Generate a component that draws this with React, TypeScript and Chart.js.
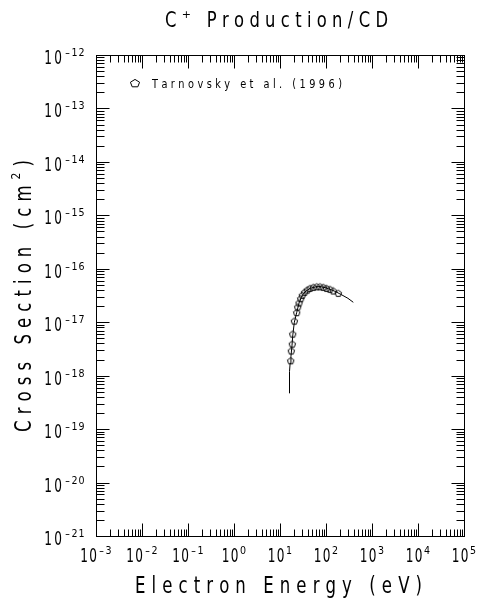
import React, { useEffect, useRef } from 'react';
import { Chart, registerables } from 'chart.js';

Chart.register(...registerables);

// ---- Data ----
const measuredEnergyEv = [17.1, 17.6, 18.5, 18.9, 20.5, 23.1, 24.3, 25.9, 28.2, 30.5, 34.4, 39.2, 44.9, 53, 62.8, 74, 87.3, 103, 122, 144, 185];
const measuredSigma = [1.9e-18, 2.9e-18, 3.9e-18, 6.0e-18, 1.05e-17, 1.51e-17, 1.92e-17, 2.29e-17, 2.75e-17, 3.19e-17, 3.63e-17, 4.0e-17, 4.3e-17, 4.5e-17, 4.6e-17, 4.6e-17, 4.5e-17, 4.3e-17, 4.13e-17, 3.84e-17, 3.48e-17];

const fitEnergyEv = [15.9, 16.1, 16.6, 17.3, 18.2, 19.0, 20.5, 23, 26, 30, 35, 45, 60, 75, 100, 150, 200, 300, 392];
const fitSigma = [4.7e-19, 1.2e-18, 1.7e-18, 2.3e-18, 3.6e-18, 5.8e-18, 1.0e-17, 1.5e-17, 2.3e-17, 3.1e-17, 3.7e-17, 4.3e-17, 4.6e-17, 4.65e-17, 4.4e-17, 3.85e-17, 3.4e-17, 2.8e-17, 2.36e-17];

const xTickExponents = [-3, -2, -1, 0, 1, 2, 3, 4, 5];
const yTickExponents = [-21, -20, -19, -18, -17, -16, -15, -14, -13, -12];

const titleMain = 'C';
const titleSup = '+';
const titleRest = ' Production/CD';
const xTitle = 'Electron Energy (eV)';
const yTitleMain = 'Cross Section (cm';
const yTitleSup = '2';
const yTitleEnd = ')';
const legendLabel = 'Tarnovsky et al. (1996)';

const FONT = '"DejaVu Sans", sans-serif';

type Glyph = { ch: string; size: number; sx: number; rise: number };

function glyphs(text: string, size: number, sx: number, rise = 0): Glyph[] {
  return text.split('').map((ch) => ({ ch, size, sx: ch === '-' ? sx * 1.5 : sx, rise }));
}

function drawGlyphs(
  ctx: CanvasRenderingContext2D,
  gs: Glyph[],
  x: number,
  y: number,
  align: 'left' | 'center' | 'right',
  width?: number,
  spacing = 0
) {
  const ws = gs.map((g) => {
    ctx.font = `${g.size}px ${FONT}`;
    return ctx.measureText(g.ch).width * g.sx;
  });
  const sum = ws.reduce((a, b) => a + b, 0);
  const sp = width != null && gs.length > 1 ? (width - sum) / (gs.length - 1) : spacing;
  const total = sum + sp * (gs.length - 1);
  let cx = align === 'center' ? x - total / 2 : align === 'right' ? x - total : x;
  gs.forEach((g, i) => {
    ctx.save();
    ctx.font = `${g.size}px ${FONT}`;
    ctx.translate(cx, y - g.rise);
    ctx.scale(g.sx, 1);
    ctx.fillText(g.ch, 0, 0);
    ctx.restore();
    cx += ws[i] + sp;
  });
}

type Cell = { ch: string; size: number; sx: number; rise: number; cell: number };

function drawCells(ctx: CanvasRenderingContext2D, cells: Cell[], startX: number, y: number) {
  let cx = startX;
  cells.forEach((c) => {
    ctx.save();
    ctx.font = `${c.size}px ${FONT}`;
    const w = ctx.measureText(c.ch).width * c.sx;
    ctx.translate(cx + (c.cell - w) / 2, y - c.rise);
    ctx.scale(c.sx, 1);
    ctx.fillText(c.ch, 0, 0);
    ctx.restore();
    cx += c.cell;
  });
  return cx - startX;
}

function powerCells(exp: number, gap: number): Cell[] {
  const cells: Cell[] = [
    { ch: '1', size: 19.5, sx: 0.62, rise: 0, cell: 8 },
    { ch: '0', size: 19.5, sx: 0.62, rise: 0, cell: 8 + gap },
  ];
  String(exp).split('').forEach((ch) => {
    cells.push({ ch, size: 10, sx: ch === '-' ? 1.4 : 0.95, rise: 8, cell: 7 });
  });
  return cells;
}

function pentagonPath(ctx: CanvasRenderingContext2D, cx: number, cy: number, r: number, sy = 1) {
  ctx.beginPath();
  for (let i = 0; i < 5; i++) {
    const a = -Math.PI / 2 + (i * 2 * Math.PI) / 5;
    const px = cx + r * Math.cos(a);
    const py = cy + r * Math.sin(a) * sy;
    if (i === 0) ctx.moveTo(px, py);
    else ctx.lineTo(px, py);
  }
  ctx.closePath();
}

function makePentagon(): HTMLCanvasElement {
  const c = document.createElement('canvas');
  c.width = 9;
  c.height = 9;
  const g = c.getContext('2d')!;
  g.strokeStyle = '#000';
  g.lineWidth = 1;
  pentagonPath(g, 4.5, 4.8, 3.4);
  g.stroke();
  return c;
}

const decorPlugin = {
  id: 'decor',
  afterDraw(chart: any) {
    const { ctx, chartArea: a, scales } = chart;
    const xs = scales.x;
    const ys = scales.y;
    const L = Math.round(a.left) + 0.5;
    const R = Math.round(a.right) + 0.5;
    const T = Math.round(a.top) + 0.5;
    const B = Math.round(a.bottom) + 0.5;
    ctx.save();
    ctx.strokeStyle = '#000';
    ctx.fillStyle = '#000';
    ctx.lineWidth = 1;
    ctx.strokeRect(L, T, R - L, B - T);

    // ticks
    ctx.beginPath();
    for (let e = xTickExponents[0]; e <= xTickExponents[xTickExponents.length - 1]; e++) {
      for (let m = 1; m <= 9; m++) {
        if (e === xTickExponents[xTickExponents.length - 1] && m > 1) break;
        const v = m * Math.pow(10, e);
        const px = Math.round(xs.getPixelForValue(v)) + 0.5;
        const len = m === 1 ? 13 : 7;
        ctx.moveTo(px, B);
        ctx.lineTo(px, B - len);
        ctx.moveTo(px, T);
        ctx.lineTo(px, T + len);
      }
    }
    for (let e = yTickExponents[0]; e <= yTickExponents[yTickExponents.length - 1]; e++) {
      for (let m = 1; m <= 9; m++) {
        if (e === yTickExponents[yTickExponents.length - 1] && m > 1) break;
        const v = m * Math.pow(10, e);
        const py = Math.round(ys.getPixelForValue(v)) + 0.5;
        const len = m === 1 ? 13 : 8;
        ctx.moveTo(L, py);
        ctx.lineTo(L + len, py);
        ctx.moveTo(R, py);
        ctx.lineTo(R - len, py);
      }
    }
    ctx.stroke();

    // tick labels
    ctx.textBaseline = 'alphabetic';
    xTickExponents.forEach((e) => {
      const px = xs.getPixelForValue(Math.pow(10, e));
      const cells = powerCells(e, 2);
      const total = cells.reduce((s, c) => s + c.cell, 0);
      drawCells(ctx, cells, px - total / 2, 562);
    });
    yTickExponents.forEach((e) => {
      const py = ys.getPixelForValue(Math.pow(10, e));
      const cells = powerCells(e, 4);
      const total = cells.reduce((s, c) => s + c.cell, 0);
      drawCells(ctx, cells, 85 - total, py + 9);
    });

    // title
    drawGlyphs(
      ctx,
      [...glyphs(titleMain, 21, 0.78), ...glyphs(titleSup, 11, 1, 9), ...glyphs(titleRest, 21, 0.78)],
      165,
      27,
      'left',
      223
    );

    // x title
    drawGlyphs(ctx, glyphs(xTitle, 23, 0.72), 135, 593, 'left', 287);

    // y title
    ctx.save();
    ctx.translate(31, 296);
    ctx.rotate(-Math.PI / 2);
    drawGlyphs(
      ctx,
      [...glyphs(yTitleMain, 23, 0.72), ...glyphs(yTitleSup, 12, 0.9, 11), ...glyphs(yTitleEnd, 23, 0.72)],
      0,
      0,
      'center',
      272
    );
    ctx.restore();

    // legend
    ctx.lineWidth = 1;
    pentagonPath(ctx, 135, 83.5, 4.8, 0.85);
    ctx.stroke();
    drawGlyphs(ctx, glyphs(legendLabel, 11.5, 0.85), 152, 88, 'left', 190);

    ctx.restore();
  },
};

export default function App() {
  const ref = useRef<HTMLCanvasElement | null>(null);
  useEffect(() => {
    const canvas = ref.current;
    if (!canvas) return;
    const pent = makePentagon();
    const chart = new Chart(canvas, {
      type: 'scatter',
      data: {
        datasets: [
          {
            label: 'fit',
            data: fitEnergyEv.map((x, i) => ({ x, y: fitSigma[i] })),
            showLine: true,
            borderColor: '#000',
            borderWidth: 1,
            pointRadius: 0,
            tension: 0,
          },
          {
            label: legendLabel,
            data: measuredEnergyEv.map((x, i) => ({ x, y: measuredSigma[i] })),
            showLine: false,
            pointStyle: pent as any,
            pointRadius: 4,
            borderColor: '#000',
            backgroundColor: 'rgba(0,0,0,0)',
          },
        ],
      },
      options: {
        animation: false,
        responsive: false,
        maintainAspectRatio: false,
        devicePixelRatio: 1,
        layout: { padding: { left: 96, top: 55, right: 20, bottom: 66 } },
        plugins: { legend: { display: false }, tooltip: { enabled: false }, title: { display: false } },
        events: [],
        scales: {
          x: { type: 'logarithmic', min: 1e-3, max: 1e5, display: false },
          y: { type: 'logarithmic', min: 1e-21, max: 1e-12, display: false },
        },
      },
      plugins: [decorPlugin],
    });
    return () => chart.destroy();
  }, []);
  return (
    <div style={{ position: 'absolute', left: 0, top: 0, width: 484, height: 602, background: '#fff' }}>
      <canvas ref={ref} width={484} height={602} style={{ display: 'block', width: 484, height: 602 }} />
    </div>
  );
}
